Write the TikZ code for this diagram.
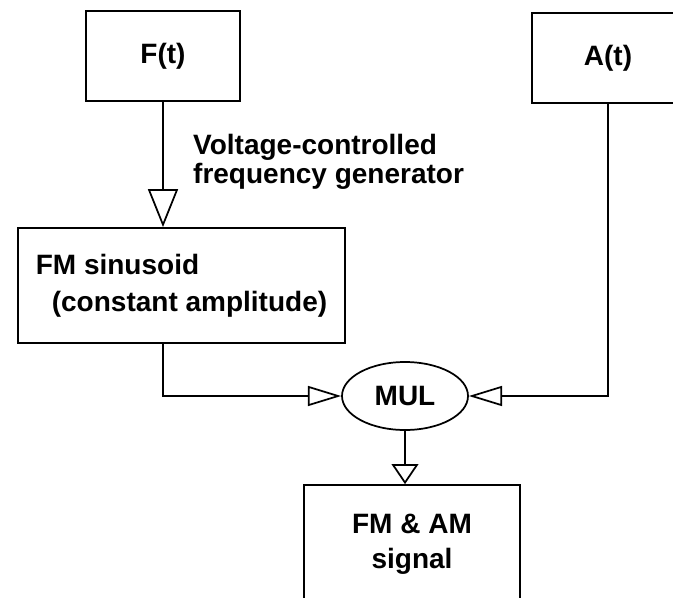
\documentclass[tikz,border=0pt]{standalone}
\usepackage{fontspec}
\setmainfont{Liberation Sans}
\usetikzlibrary{shapes.geometric,arrows.meta,positioning,calc}

\begin{document}
\begin{tikzpicture}[
  x=0.75pt, y=-0.75pt,
  line width=1.3pt,
  block/.style={
    rectangle, draw, inner sep=0pt,
    font=\fontsize{21}{25}\selectfont\bfseries
  },
  mulnode/.style={
    ellipse, draw, inner sep=0pt,
    minimum width=94.5pt, minimum height=51pt,
    font=\fontsize{21}{25}\selectfont\bfseries
  },
  hollow/.style 2 args={-{Triangle[open,length=#1,width=#2]}}
]
\useasboundingbox (0,0) rectangle (673,598);
\clip (0,0) rectangle (673,598);

% Blocks
\node[block, minimum width=115.5pt, minimum height=67.5pt] (ft) at (163, 56) {F(t)};
\node[block, minimum width=114pt, minimum height=67.5pt] (at) at (608, 58) {A(t)};
\node[block, minimum width=245.25pt, minimum height=86.25pt, align=left,
      font=\fontsize{21}{28}\selectfont\bfseries] (fm) at (181.5, 285.5)
      {FM sinusoid\\\hspace*{12pt}(constant amplitude)};
\node[mulnode] (mul) at (405, 396) {MUL};
\node[block, minimum width=162pt, minimum height=88.5pt, align=center,
      font=\fontsize{21}{26}\selectfont\bfseries] (sig) at (412, 544)
      {FM \& AM\\signal};

% Connections
\draw[hollow={28.5pt}{22.5pt}] (ft.south) -- node[right, pos=.48, xshift=22pt, inner sep=0pt, align=left,
      font=\fontsize{21}{22}\selectfont\bfseries]{Voltage-controlled\\frequency generator} (ft.south |- fm.north);
\draw[hollow={25pt}{15pt}] (ft.south |- fm.south) |- (mul.west);
\draw[hollow={25pt}{15pt}] (at.south) |- (mul.east);
\draw[hollow={15pt}{20pt}] (mul.south) -- (mul.south |- sig.north);

\end{tikzpicture}
\end{document}
